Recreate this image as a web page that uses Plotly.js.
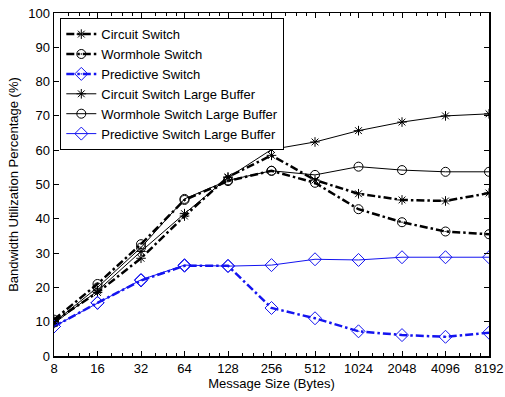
<!DOCTYPE html>
<html>
<head>
<meta charset="utf-8">
<script src="https://cdn.plot.ly/plotly-3.0.1.min.js"></script>
<style>
  html, body { margin: 0; padding: 0; background: #fff; }
  #chart { width: 505px; height: 397px; }
</style>
</head>
<body>
<div id="chart"></div>
<script>
// Message sizes in bytes (log2 spaced)
const sizes = [8, 16, 32, 64, 128, 256, 512, 1024, 2048, 4096, 8192];
const sizeLabels = ['8', '16', '32', '64', '128', '256', '512', '1024', '2048', '4096', '8192'];

// Bandwidth utilization (%) per switch type
const circuit      = [10.2, 18.5, 28.5, 40.8, 52.2, 58.5, 51.3, 47.3, 45.5, 45.2, 47.5];
const wormhole     = [10.6, 21.0, 32.6, 45.5, 51.0, 54.0, 50.5, 42.8, 39.0, 36.3, 35.5];
const predictive   = [8.6, 15.5, 22.0, 26.3, 26.3, 14.0, 11.0, 7.2, 6.1, 5.6, 6.8];
const circuitLB    = [9.5, 19.0, 30.5, 41.5, 52.0, 60.2, 62.4, 65.7, 68.2, 70.0, 70.6];
const wormholeLB   = [9.8, 20.0, 31.6, 45.8, 51.2, 54.0, 52.8, 55.2, 54.2, 53.7, 53.7];
const predictiveLB = [8.6, 15.5, 22.2, 26.5, 26.2, 26.5, 28.2, 28.0, 28.8, 28.8, 28.8];

const BLUE = '#1414f0';
const DASHDOT = '8px,3px,2.5px,3px';

function series(name, y, color, width, dash, symbol, size) {
  return {
    type: 'scatter',
    mode: 'lines+markers',
    name: name,
    x: sizes,
    y: y,
    line: { color: color, width: width, dash: dash },
    marker: { symbol: symbol, size: size, color: color,
              line: { color: color, width: 1 } }
  };
}

const traces = [
  series('Circuit Switch', circuit, '#000', 2.5, DASHDOT, 'asterisk-open', 8),
  series('Wormhole Switch', wormhole, '#000', 2.5, DASHDOT, 'circle-open-dot', 9),
  series('Predictive Switch', predictive, BLUE, 2.5, DASHDOT, 'diamond-open-dot', 10),
  series('Circuit Switch Large Buffer', circuitLB, '#000', 1, 'solid', 'asterisk-open', 8),
  series('Wormhole Switch Large Buffer', wormholeLB, '#000', 1, 'solid', 'circle-open', 9),
  series('Predictive Switch Large Buffer', predictiveLB, BLUE, 1, 'solid', 'diamond-open', 10)
];

// minor ticks at quarter steps within each octave
const minorVals = [];
for (let i = 0; i < sizes.length - 1; i++) {
  [1.25, 1.5, 1.75].forEach(f => minorVals.push(sizes[i] * f));
}

const FONT = 'Liberation Sans, Arial, Helvetica, sans-serif';

const layout = {
  width: 505,
  height: 397,
  margin: { l: 54, r: 16, t: 13, b: 41 },
  paper_bgcolor: '#fff',
  plot_bgcolor: '#fff',
  font: { family: FONT, size: 13, color: '#000' },
  showlegend: true,
  legend: {
    x: 0.0145, y: 0.985, xanchor: 'left', yanchor: 'top',
    bgcolor: '#fff', bordercolor: '#000', borderwidth: 1,
    font: { family: FONT, size: 13, color: '#000' },
    itemwidth: 30
  },
  xaxis: {
    type: 'log',
    range: [Math.log10(8), Math.log10(8192)],
    tickmode: 'array',
    tickvals: sizes,
    ticktext: sizeLabels,
    ticks: 'inside',
    ticklen: 5,
    tickwidth: 1,
    tickcolor: '#000',
    minor: { tickmode: 'array', tickvals: minorVals, ticks: 'inside', ticklen: 3, tickcolor: '#000', showgrid: false },
    showline: true,
    linecolor: '#000',
    linewidth: 1.5,
    mirror: 'allticks',
    showgrid: false,
    zeroline: false,
    tickfont: { family: FONT, size: 13, color: '#000' },
    title: { text: 'Message Size (Bytes)', font: { family: FONT, size: 13, color: '#000' }, standoff: 4 }
  },
  yaxis: {
    range: [0, 100],
    tickmode: 'linear',
    tick0: 0,
    dtick: 10,
    ticks: 'inside',
    ticklen: 5,
    tickwidth: 1,
    tickcolor: '#000',
    showline: true,
    linecolor: '#000',
    linewidth: 1.5,
    mirror: 'allticks',
    showgrid: false,
    zeroline: false,
    tickfont: { family: FONT, size: 13, color: '#000' },
    title: { text: 'Bandwidth Utilization Percentage (%)', font: { family: FONT, size: 13, color: '#000' }, standoff: 6 }
  }
};

Plotly.newPlot('chart', traces, layout, { displayModeBar: false, staticPlot: true });
</script>
</body>
</html>
